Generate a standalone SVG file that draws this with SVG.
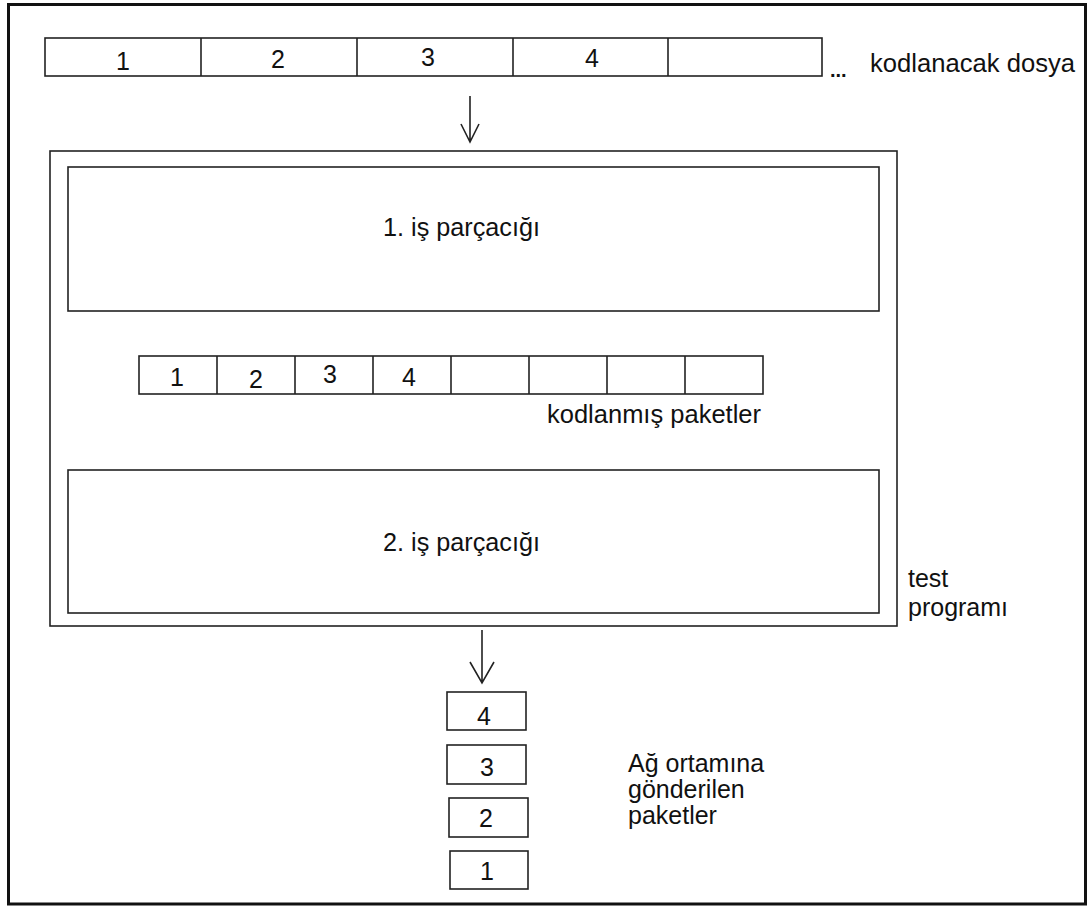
<svg xmlns="http://www.w3.org/2000/svg" width="1088" height="906" viewBox="0 0 1088 906">
  <style>
    .box { fill: #fff; stroke: #222; stroke-width: 1.6; }
    .cell { fill: none; stroke: #222; stroke-width: 1.6; }
    .lbl { font-family: "Liberation Sans", Arial, sans-serif; font-size: 25px; fill: #111; }
    .num { font-family: "Liberation Sans", Arial, sans-serif; font-size: 25px; fill: #111; text-anchor: middle; }
    .arrow { fill: none; stroke: #222; stroke-width: 1.6; }
  </style>

  <!-- page frame -->
  <rect x="0" y="0" width="1088" height="906" fill="#fff"/>
  <rect x="8.5" y="4.5" width="1077" height="899.5" fill="none" stroke="#111" stroke-width="3"/>

  <!-- input file split into blocks -->
  <g id="input-file">
    <rect class="box" x="45" y="38" width="777" height="38"/>
    <path class="cell" d="M201,38V76 M357,38V76 M513,38V76 M668,38V76"/>
    <text class="num" x="123" y="70">1</text>
    <text class="num" x="278" y="68">2</text>
    <text class="num" x="428" y="66">3</text>
    <text class="num" x="592" y="67">4</text>
    <text x="830" y="77" font-family="Liberation Sans, Arial, sans-serif" font-size="20" font-weight="bold" fill="#111">...</text>
    <text class="lbl" x="870" y="72" textLength="205" lengthAdjust="spacingAndGlyphs">kodlanacak dosya</text>
  </g>

  <!-- test program container -->
  <g id="test-program">
    <rect class="box" x="50" y="151" width="847" height="475"/>
    <text class="lbl" x="908" y="587">test</text>
    <text class="lbl" x="908" y="616">programı</text>
  </g>

  <g id="thread-1">
    <rect class="box" x="68" y="167" width="811" height="144"/>
    <text class="lbl" x="383" y="236" textLength="157" lengthAdjust="spacingAndGlyphs">1. iş parçacığı</text>
  </g>

  <g id="encoded-packets">
    <rect class="box" x="139" y="356" width="624" height="38"/>
    <path class="cell" d="M217,356V394 M295,356V394 M373,356V394 M451,356V394 M529,356V394 M607,356V394 M685,356V394"/>
    <text class="num" x="177" y="386">1</text>
    <text class="num" x="256" y="388">2</text>
    <text class="num" x="330" y="383">3</text>
    <text class="num" x="409" y="386">4</text>
    <text class="lbl" x="547" y="423" textLength="214" lengthAdjust="spacingAndGlyphs">kodlanmış paketler</text>
  </g>

  <g id="thread-2">
    <rect class="box" x="68" y="470" width="811" height="143"/>
    <text class="lbl" x="383" y="551" textLength="157" lengthAdjust="spacingAndGlyphs">2. iş parçacığı</text>
  </g>

  <!-- packets sent to the network -->
  <g id="sent-packets">
    <rect class="box" x="447" y="692" width="79" height="38"/>
    <text class="num" x="484" y="725">4</text>
    <rect class="box" x="447" y="745" width="79" height="39"/>
    <text class="num" x="487" y="776">3</text>
    <rect class="box" x="449" y="798" width="79" height="39"/>
    <text class="num" x="486" y="827">2</text>
    <rect class="box" x="450" y="851" width="78" height="38"/>
    <text class="num" x="487" y="880">1</text>
    <text class="lbl" x="628" y="772">Ağ ortamına</text>
    <text class="lbl" x="628" y="798">gönderilen</text>
    <text class="lbl" x="628" y="824">paketler</text>
  </g>

  <!-- connectors -->
  <g id="connectors">
    <path class="arrow" d="M470,96V142 M461,124L470,142L479,124"/>
    <path class="arrow" d="M482,630V683 M470,662L482,683L494,662"/>
  </g>
</svg>
